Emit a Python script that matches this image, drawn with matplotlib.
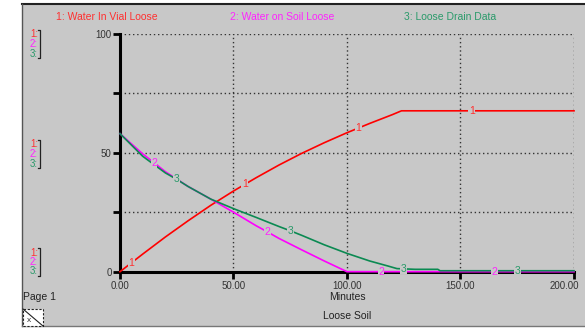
import numpy as np
import matplotlib
matplotlib.use("Agg")
import matplotlib.pyplot as plt
import matplotlib.transforms as mtransforms
from matplotlib.patches import Rectangle
from matplotlib.lines import Line2D

plt.rcParams['font.family'] = ['Liberation Sans', 'DejaVu Sans']

# ---- data ----
series_names = ["1: Water In Vial Loose", "2: Water on Soil Loose", "3: Loose Drain Data"]
series_ids = ["1", "2", "3"]

vial_t = [0, 5, 10, 20, 30, 40, 50, 60, 70, 80, 90, 100, 110, 120, 124, 200]
vial_v = [0, 3.7, 7.4, 14.6, 21.4, 27.9, 33.9, 39.5, 44.8, 49.7, 54.2, 58.4, 62.3, 66, 67.6, 67.6]

soil_t = [0, 10, 15, 20, 30, 40, 50, 60, 65, 70, 80, 90, 100, 200]
soil_v = [58, 49.5, 45.8, 42, 35.8, 30.5, 25, 19.3, 16.7, 14, 9.2, 4.5, 0, 0]

drain_t = [0, 10, 20, 25, 30, 40, 50, 60, 70, 75, 80, 90, 100, 110, 118, 122, 130, 140, 141, 200]
drain_v = [58, 48.5, 41.5, 38.8, 35.8, 30.5, 26.5, 22.8, 19, 17.2, 15.3, 11.3, 7.7, 4.5, 2.4, 1.3, 1.0, 1.0, 0.4, 0.4]

label_t = [[5, 55, 105, 155], [15, 65, 115, 165], [25, 75, 125, 175]]

x_ticks = [0, 50, 100, 150, 200]
x_ticklabels = ["0.00", "50.00", "100.00", "150.00", "200.00"]
y_ticks = [0, 25, 50, 75, 100]
y_ticklabels = ["0", "", "50", "", "100"]

line_colors = ["#ff0000", "#ff00ff", "#0b8a52"]
text_colors = ["#ff3030", "#ff22ff", "#2a9a6a"]

W, H = 585, 328
BG = "#c8c8c8"

fig = plt.figure(figsize=(W / 100, H / 100), dpi=100)
fig.patch.set_facecolor("white")

def fx(px):
    return px / W

def fy(py):
    return 1 - py / H

# panel background
fig.patches.append(Rectangle((fx(22), fy(326)), 1 - fx(22), (326 - 4) / H,
                             transform=fig.transFigure, facecolor=BG,
                             edgecolor="none", zorder=-5))
fig.lines.append(Line2D([fx(22), 1], [fy(4), fy(4)], transform=fig.transFigure,
                        color="#222222", lw=1.5, zorder=-4))
fig.lines.append(Line2D([fx(22), fx(22)], [fy(4), fy(326)], transform=fig.transFigure,
                        color="#555555", lw=1.0, zorder=-4))
fig.lines.append(Line2D([fx(22), 1], [fy(326), fy(326)], transform=fig.transFigure,
                        color="#777777", lw=1.0, zorder=-4))

ax = fig.add_axes([fx(120), fy(271.7), fx(574) - fx(120), (271.7 - 33.7) / H])
ax.set_zorder(2)
ax.set_facecolor("none")
ax.set_xlim(0, 200)
ax.set_ylim(0, 100)

# grid
for gx in x_ticks[1:]:
    ax.axvline(gx, color="#333333", lw=1.0, ls=(0, (1, 2)), zorder=1)
for gy in y_ticks[1:]:
    ax.axhline(gy, color="#333333", lw=1.0, ls=(0, (1, 2)), zorder=1)

for s in ["top", "right"]:
    ax.spines[s].set_visible(False)
for s in ["left", "bottom"]:
    ax.spines[s].set_linewidth(2.2)
    ax.spines[s].set_color("black")
    ax.spines[s].set_zorder(2)

ax.set_xticks(x_ticks)
ax.set_xticklabels(x_ticklabels)
ax.set_yticks(y_ticks)
ax.set_yticklabels(y_ticklabels)
ax.tick_params(axis="both", direction="out", length=5, width=2, color="black",
               labelsize=7, labelcolor="#333333")
ax.tick_params(axis="x", pad=2)
ax.tick_params(axis="y", pad=1)

# keep the last x tick label inside the figure, as in the reference
last = ax.get_xticklabels()[-1]
last.set_horizontalalignment("right")
last.set_transform(last.get_transform() + mtransforms.ScaledTranslation(5 / 100, 0, fig.dpi_scale_trans))

data = [(vial_t, vial_v), (soil_t, soil_v), (drain_t, drain_v)]
for i, (t, v) in enumerate(data):
    ax.plot(t, v, color=line_colors[i], lw=1.2, zorder=3 + i, clip_on=False)

for i, (t, v) in enumerate(data):
    for lt in label_t[i]:
        yv = np.interp(lt, t, v)
        ax.text(lt, yv, series_ids[i], color=text_colors[i], fontsize=7.5,
                ha="center", va="center", zorder=10,
                bbox=dict(facecolor=BG, edgecolor="none", pad=0.3))

# legend titles
legend_x = [107, 282, 450]
for i, name in enumerate(series_names):
    fig.text(fx(legend_x[i]), fy(17), name, color=text_colors[i], fontsize=7.5,
             ha="center", va="center")

# scale indicators
for ys in [(34, 44.3, 54.3), (144, 154, 164), (252.7, 262, 271.5)]:
    for i, yy in enumerate(ys):
        fig.text(fx(30), fy(yy), series_ids[i] + ":", color=text_colors[i],
                 fontsize=7, ha="left", va="center")
    top, bot = ys[0] - 4.5, ys[2] + 4
    fig.lines.append(Line2D([fx(37.5), fx(39.5), fx(39.5), fx(37.5)],
                            [fy(top), fy(top), fy(bot), fy(bot)],
                            transform=fig.transFigure, color="#222222", lw=0.9))

fig.text(fx(347), fy(297), "Minutes", fontsize=7.5, color="#222222",
         ha="center", va="center")
fig.text(fx(347), fy(316), "Loose Soil", fontsize=7.5, color="#222222",
         ha="center", va="center")
fig.text(fx(23), fy(297), "Page 1", fontsize=7.5, color="#222222",
         ha="left", va="center")

# lock icon
fig.patches.append(Rectangle((fx(23), fy(326)), fx(43) - fx(23), (326 - 309) / H,
                             transform=fig.transFigure, facecolor="white",
                             edgecolor="#222222", lw=0.8, ls=(0, (2, 1.5)), zorder=5))
fig.lines.append(Line2D([fx(23), fx(43)], [fy(309), fy(326)], transform=fig.transFigure,
                        color="#222222", lw=0.8, zorder=6))
fig.text(fx(29), fy(321), "x", fontsize=6, color="#333333", ha="center", va="center",
         zorder=7)

fig.savefig("out.png", dpi=100, facecolor=fig.get_facecolor())
